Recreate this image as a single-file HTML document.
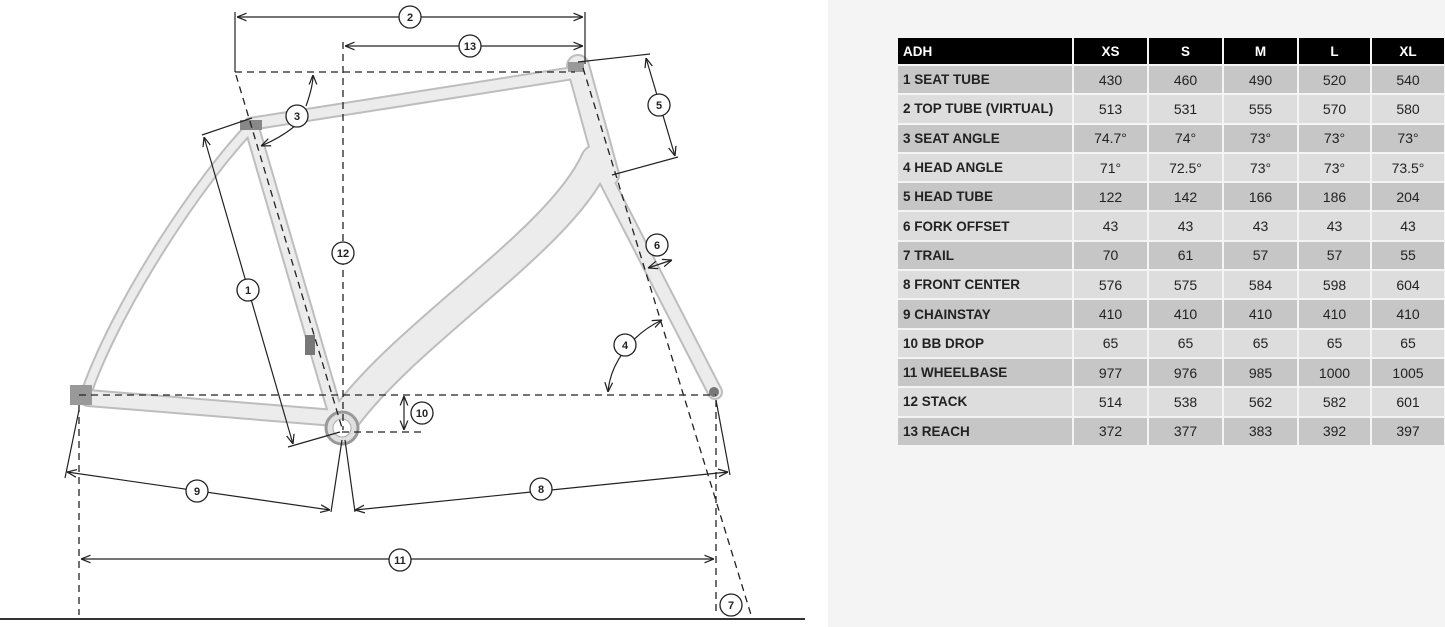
<!DOCTYPE html>
<html><head><style>
body{margin:0;width:1445px;height:627px;background:#fff;position:relative;overflow:hidden;font-family:"Liberation Sans",sans-serif}
#panel{position:absolute;left:828px;top:0;width:617px;height:627px;background:#f4f4f4}
table{position:absolute;left:896px;top:38px;border-collapse:collapse;width:548px;table-layout:fixed}
td{height:27.3px;padding:0;border:2px solid #f4f4f4;border-top:0;border-bottom:2px solid #f4f4f4;text-align:center;font-size:14px;color:#222}
td:first-child{text-align:left;padding-left:5px;font-weight:bold;font-size:13.5px}
tr.h td{background:#000;color:#fff;font-weight:bold;font-size:13.5px;height:26px}
tr.a td{background:#c6c6c6}
tr.b td{background:#dddddd}
</style></head><body>
<div id="panel"></div>
<svg width="828" height="627" style="position:absolute;left:0;top:0" font-family="Liberation Sans" >
<defs><marker id="ar" viewBox="0 0 10 10" refX="10" refY="5" markerWidth="8" markerHeight="8" orient="auto-start-reverse"><path d="M0,1 L10,5 L0,9" fill="none" stroke="#222" stroke-width="1.3"/></marker></defs>
<g stroke-linecap="round" fill="none">
<g stroke="#bdbdbd">
<path d="M250,128 C200,180 120,300 88,388" stroke-width="12"/>
<path d="M88,398 L335,418" stroke-width="18"/>
<path d="M252,128 L335,412" stroke-width="16"/>
<path d="M250,124 L580,72" stroke-width="14"/>
<path d="M596,160 C560,240 410,330 345,418" stroke-width="32"/>
<path d="M578,66 L608,175" stroke-width="24"/>
<path d="M605,178 L715,392" stroke-width="16"/>
</g>
<g stroke="#ececec">
<path d="M250,128 C200,180 120,300 88,388" stroke-width="8"/>
<path d="M88,398 L335,418" stroke-width="14"/>
<path d="M252,128 L335,412" stroke-width="12"/>
<path d="M250,124 L580,72" stroke-width="10"/>
<path d="M596,160 C560,240 410,330 345,418" stroke-width="28"/>
<path d="M578,66 L608,175" stroke-width="20"/>
<path d="M605,178 L715,392" stroke-width="12"/>
</g>
</g>
<circle cx="342" cy="428" r="16" fill="#e0e0e0" stroke="#999" stroke-width="3"/>
<circle cx="342" cy="428" r="9" fill="#fff" stroke="#aaa"/>
<rect x="240" y="120" width="22" height="10" fill="#888"/>
<rect x="305" y="335" width="10" height="20" fill="#777"/>
<rect x="70" y="385" width="22" height="20" fill="#999"/>
<rect x="568" y="62" width="16" height="10" fill="#999"/>
<circle cx="714" cy="392" r="5" fill="#777"/>
<g stroke="#222" stroke-width="1.3" stroke-dasharray="7,5" fill="none">
<path d="M235,72 H575"/>
<path d="M343,42 V430"/>
<path d="M236,75 L342,428"/>
<path d="M583,68 L752,618"/>
<path d="M79,395 H716"/>
<path d="M342,432 H425"/>
<path d="M79,405 V615"/>
<path d="M716,400 V615"/>
</g>
<g stroke="#222" stroke-width="1.2" fill="none">
<path d="M235,12 V72 M585,12 V64"/>
<path d="M237,17 H583" marker-start="url(#ar)" marker-end="url(#ar)"/>
<path d="M345,46 H583" marker-start="url(#ar)" marker-end="url(#ar)"/>
<path d="M202,135 L252,118"/>
<path d="M288,447 L340,432"/>
<path d="M204,137 L293,444" marker-start="url(#ar)" marker-end="url(#ar)"/>
<path d="M578,62 L650,54 M612,175 L678,157"/>
<path d="M646,58 L675,156" marker-start="url(#ar)" marker-end="url(#ar)"/>
<path d="M648,268 L672,260" marker-start="url(#ar)" marker-end="url(#ar)"/>
<path d="M608,392 C610,365 630,335 662,320" marker-start="url(#ar)" marker-end="url(#ar)"/>
<path d="M261,146 C275,140 288,132 296,125" marker-start="url(#ar)"/>
<path d="M306,106 C310,95 313,85 313,75" marker-end="url(#ar)"/>
<path d="M404,396 V430" marker-start="url(#ar)" marker-end="url(#ar)"/>
<path d="M79,410 L65,478 M342,440 L331,512 M345,440 L355,512 M716,400 L730,475"/>
<path d="M67,472 L330,510" marker-start="url(#ar)" marker-end="url(#ar)"/>
<path d="M355,510 L728,472" marker-start="url(#ar)" marker-end="url(#ar)"/>
<path d="M81,559 H714" marker-start="url(#ar)" marker-end="url(#ar)"/>
</g>
<line x1="0" y1="619" x2="805" y2="619" stroke="#333" stroke-width="2"/>
<g fill="#fff" stroke="#222" stroke-width="1.3">
<circle cx="410" cy="17" r="11"/><circle cx="470" cy="46" r="11"/><circle cx="297" cy="116" r="11"/>
<circle cx="343" cy="253" r="11"/><circle cx="248" cy="290" r="11"/><circle cx="659" cy="105" r="11"/>
<circle cx="657" cy="245" r="11"/><circle cx="625" cy="345" r="11"/><circle cx="422" cy="413" r="11"/>
<circle cx="197" cy="491" r="11"/><circle cx="541" cy="489" r="11"/><circle cx="400" cy="560" r="11"/>
<circle cx="731" cy="605" r="11"/>
</g>
<g font-size="11" font-weight="bold" text-anchor="middle" fill="#222">
<text x="410" y="21">2</text><text x="470" y="50">13</text><text x="297" y="120">3</text>
<text x="343" y="257">12</text><text x="248" y="294">1</text><text x="659" y="109">5</text>
<text x="657" y="249">6</text><text x="625" y="349">4</text><text x="422" y="417">10</text>
<text x="197" y="495">9</text><text x="541" y="493">8</text><text x="400" y="564">11</text>
<text x="731" y="609">7</text>
</g>
</svg>
<table>
<colgroup><col style="width:176px"><col style="width:75px"><col style="width:75px"><col style="width:75px"><col style="width:73px"><col style="width:74px"></colgroup>
<tr class="h"><td>ADH</td><td>XS</td><td>S</td><td>M</td><td>L</td><td>XL</td></tr>
<tr class="a"><td>1 SEAT TUBE</td><td>430</td><td>460</td><td>490</td><td>520</td><td>540</td></tr>
<tr class="b"><td>2 TOP TUBE (VIRTUAL)</td><td>513</td><td>531</td><td>555</td><td>570</td><td>580</td></tr>
<tr class="a"><td>3 SEAT ANGLE</td><td>74.7°</td><td>74°</td><td>73°</td><td>73°</td><td>73°</td></tr>
<tr class="b"><td>4 HEAD ANGLE</td><td>71°</td><td>72.5°</td><td>73°</td><td>73°</td><td>73.5°</td></tr>
<tr class="a"><td>5 HEAD TUBE</td><td>122</td><td>142</td><td>166</td><td>186</td><td>204</td></tr>
<tr class="b"><td>6 FORK OFFSET</td><td>43</td><td>43</td><td>43</td><td>43</td><td>43</td></tr>
<tr class="a"><td>7 TRAIL</td><td>70</td><td>61</td><td>57</td><td>57</td><td>55</td></tr>
<tr class="b"><td>8 FRONT CENTER</td><td>576</td><td>575</td><td>584</td><td>598</td><td>604</td></tr>
<tr class="a"><td>9 CHAINSTAY</td><td>410</td><td>410</td><td>410</td><td>410</td><td>410</td></tr>
<tr class="b"><td>10 BB DROP</td><td>65</td><td>65</td><td>65</td><td>65</td><td>65</td></tr>
<tr class="a"><td>11 WHEELBASE</td><td>977</td><td>976</td><td>985</td><td>1000</td><td>1005</td></tr>
<tr class="b"><td>12 STACK</td><td>514</td><td>538</td><td>562</td><td>582</td><td>601</td></tr>
<tr class="a"><td>13 REACH</td><td>372</td><td>377</td><td>383</td><td>392</td><td>397</td></tr>
</table>
</body></html>
